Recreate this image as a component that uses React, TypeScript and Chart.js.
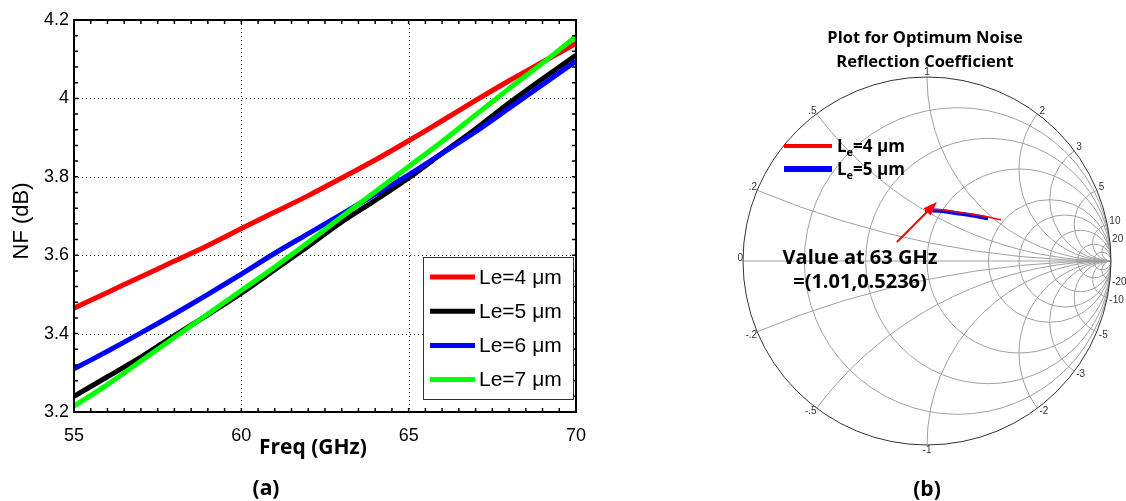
import React, { useEffect, useRef } from "react";
import { Chart, registerables } from "chart.js";

Chart.register(...registerables);

// ---------- (a) Noise figure vs frequency ----------
const freqs = [55, 56, 57, 58, 59, 60, 61, 62, 63, 64, 65, 66, 67, 68, 69, 70];
const nfLe4 = [3.465, 3.505, 3.545, 3.585, 3.625, 3.668, 3.71, 3.752, 3.797, 3.843, 3.892, 3.943, 3.995, 4.045, 4.093, 4.14];
const nfLe5 = [3.24, 3.29, 3.34, 3.395, 3.448, 3.503, 3.563, 3.623, 3.685, 3.74, 3.797, 3.86, 3.922, 3.988, 4.05, 4.11];
const nfLe6 = [3.31, 3.355, 3.402, 3.45, 3.5, 3.552, 3.605, 3.655, 3.705, 3.755, 3.805, 3.86, 3.915, 3.975, 4.035, 4.095];
const nfLe7 = [3.215, 3.27, 3.33, 3.39, 3.45, 3.51, 3.57, 3.633, 3.698, 3.762, 3.826, 3.89, 3.958, 4.025, 4.09, 4.158];
const nfLabels = ["Le=4 \u03bcm", "Le=5 \u03bcm", "Le=6 \u03bcm", "Le=7 \u03bcm"];
const nfColors = ["#ff0000", "#000000", "#0000ff", "#00ff00"];
const xTicks = [55, 60, 65, 70];
const yTicks = [3.2, 3.4, 3.6, 3.8, 4, 4.2];
const yTickLabels = ["3.2", "3.4", "3.6", "3.8", "4", "4.2"];
const xMinorStep = 0.5;
const yMinorStep = 0.04;

// ---------- (b) Smith chart ----------
const gammaReLe4 = [-0.01, 0.08, 0.163, 0.25, 0.33, 0.402];
const gammaImLe4 = [0.283, 0.278, 0.267, 0.253, 0.239, 0.224];
const gammaReLe5 = [-0.01, 0.08, 0.163, 0.25, 0.332];
const gammaImLe5 = [0.277, 0.272, 0.26, 0.247, 0.232];
const smithSeriesSub = ["=4 \u03bcm", "=5 \u03bcm"];
const smithColors = ["#ff0000", "#0000ff"];
const resistanceValues = [0.2, 0.5, 1, 2, 3, 5, 10, 20];
const reactanceValues = [0.2, 0.5, 1, 2, 3, 5, 10, 20];
const rimValues = [0, 0.2, 0.5, 1, 2, 3, 5, 10, 20];
const rimLabelsPos = ["0", ".2", ".5", "1", "2", "3", "5", "10", "20"];
const rimLabelsNeg = ["", "-.2", "-.5", "-1", "-2", "-3", "-5", "-10", "-20"];
const arrowTail = { x: -0.163, y: 0.103 };
const arrowTip = { x: 0.054, y: 0.321 };
const noteLines = ["Value at 63 GHz", "=(1.01,0.5236)"];
const smithTitle = ["Plot for Optimum Noise", "Reflection Coefficient"];

const SANS = "'Liberation Sans', Arial, sans-serif";
const BOLD = "'Open Sans', 'Liberation Sans', sans-serif";

const nfPlugin = {
  id: "nfDecor",
  beforeDatasetsDraw(chart: any) {
    const { ctx, chartArea: a, scales } = chart;
    const x = scales.x, y = scales.y;
    ctx.save();
    ctx.strokeStyle = "#222";
    ctx.lineWidth = 1;
    ctx.setLineDash([1, 3]);
    xTicks.forEach((v) => {
      if (v === xTicks[0] || v === xTicks[xTicks.length - 1]) return;
      const px = Math.round(x.getPixelForValue(v)) + 0.5;
      ctx.beginPath();
      ctx.moveTo(px, a.top);
      ctx.lineTo(px, a.bottom);
      ctx.stroke();
    });
    yTicks.forEach((v) => {
      if (v === yTicks[0] || v === yTicks[yTicks.length - 1]) return;
      const py = Math.round(y.getPixelForValue(v)) + 0.5;
      ctx.beginPath();
      ctx.moveTo(a.left, py);
      ctx.lineTo(a.right, py);
      ctx.stroke();
    });
    ctx.restore();
  },
  afterDatasetsDraw(chart: any) {
    const { ctx, chartArea: a, scales } = chart;
    const x = scales.x, y = scales.y;
    ctx.save();
    ctx.strokeStyle = "#000";
    ctx.lineWidth = 1.5;
    const nx = Math.round((xTicks[xTicks.length - 1] - xTicks[0]) / xMinorStep);
    for (let k = 0; k <= nx; k++) {
      const px = x.getPixelForValue(xTicks[0] + k * xMinorStep);
      ctx.beginPath();
      ctx.moveTo(px, a.bottom);
      ctx.lineTo(px, a.bottom - 4);
      ctx.moveTo(px, a.top);
      ctx.lineTo(px, a.top + 4);
      ctx.stroke();
    }
    const ny = Math.round((yTicks[yTicks.length - 1] - yTicks[0]) / yMinorStep);
    for (let k = 0; k <= ny; k++) {
      const py = y.getPixelForValue(yTicks[0] + k * yMinorStep);
      ctx.beginPath();
      ctx.moveTo(a.left, py);
      ctx.lineTo(a.left + 4, py);
      ctx.moveTo(a.right, py);
      ctx.lineTo(a.right - 4, py);
      ctx.stroke();
    }
    ctx.lineWidth = 2;
    ctx.strokeRect(a.left, a.top, a.right - a.left, a.bottom - a.top);

    // legend box
    const bx = a.right - 153, by = a.bottom - 155, bw = 150, bh = 142;
    ctx.fillStyle = "#fff";
    ctx.fillRect(bx, by, bw, bh);
    ctx.lineWidth = 1;
    ctx.strokeStyle = "#333";
    ctx.strokeRect(bx + 0.5, by + 0.5, bw, bh);
    ctx.font = `21px ${SANS}`;
    ctx.textBaseline = "middle";
    ctx.textAlign = "left";
    chart.data.datasets.forEach((ds: any, i: number) => {
      const ry = by + 20 + i * 34.2;
      ctx.strokeStyle = ds.borderColor;
      ctx.lineWidth = 5;
      ctx.beginPath();
      ctx.moveTo(bx + 7, ry);
      ctx.lineTo(bx + 52, ry);
      ctx.stroke();
      ctx.fillStyle = "#000";
      ctx.fillText(ds.label, bx + 56, ry + 1);
    });
    ctx.restore();
  },
  afterDraw(chart: any) {
    const { ctx } = chart;
    ctx.save();
    ctx.fillStyle = "#000";
    ctx.textAlign = "center";
    ctx.textBaseline = "middle";
    ctx.font = `22px ${SANS}`;
    ctx.translate(22, 221);
    ctx.rotate(-Math.PI / 2);
    ctx.fillText("NF (dB)", 0, 0);
    ctx.restore();
    ctx.save();
    ctx.fillStyle = "#000";
    ctx.textAlign = "center";
    ctx.textBaseline = "alphabetic";
    ctx.font = `bold 21px ${BOLD}`;
    ctx.fillText("Freq (GHz)", 313, 454);
    ctx.fillText("(a)", 266, 495);
    ctx.restore();
  },
};

const smithPlugin = {
  id: "smithDecor",
  beforeDatasetsDraw(chart: any) {
    const { ctx, scales } = chart;
    const x = scales.x, y = scales.y;
    const cx = x.getPixelForValue(0), cy = y.getPixelForValue(0);
    const R = x.getPixelForValue(1) - cx;
    const P = (re: number, im: number) => [x.getPixelForValue(re), y.getPixelForValue(im)];
    ctx.save();
    ctx.beginPath();
    ctx.arc(cx, cy, R, 0, Math.PI * 2);
    ctx.clip();
    ctx.strokeStyle = "#a0a0a0";
    ctx.lineWidth = 1;
    resistanceValues.forEach((r) => {
      const [px] = P(r / (1 + r), 0);
      ctx.beginPath();
      ctx.arc(px, cy, R / (1 + r), 0, Math.PI * 2);
      ctx.stroke();
    });
    reactanceValues.forEach((xv) => {
      [1, -1].forEach((s) => {
        const [px, py] = P(1, (s * 1) / xv);
        ctx.beginPath();
        ctx.arc(px, py, R / xv, 0, Math.PI * 2);
        ctx.stroke();
      });
    });
    ctx.beginPath();
    ctx.moveTo(cx - R, cy);
    ctx.lineTo(cx + R, cy);
    ctx.stroke();
    ctx.restore();

    ctx.save();
    ctx.strokeStyle = "#333";
    ctx.lineWidth = 1;
    ctx.beginPath();
    ctx.arc(cx, cy, R, 0, Math.PI * 2);
    ctx.stroke();
    // rim labels
    ctx.fillStyle = "#333";
    ctx.font = `10px ${SANS}`;
    ctx.textBaseline = "middle";
    rimValues.forEach((v, i) => {
      const ang = Math.PI - 2 * Math.atan(v);
      [1, -1].forEach((s) => {
        const txt = s > 0 ? rimLabelsPos[i] : rimLabelsNeg[i];
        if (!txt) return;
        const c = Math.cos(ang), sn = Math.sin(ang) * s;
        const rx = cx + R * c;
        const ry = cy - R * sn;
        if (Math.abs(c) < 0.15) {
          ctx.textAlign = "center";
          ctx.fillText(txt, rx, ry - s * 5);
        } else if (c > 0) {
          ctx.textAlign = "left";
          ctx.fillText(txt, rx + 2, ry - s * 3);
        } else {
          ctx.textAlign = "right";
          ctx.fillText(txt, rx, ry - s * 3);
        }
      });
    });
    ctx.restore();
  },
  afterDatasetsDraw(chart: any) {
    const { ctx, scales, chartArea: a } = chart;
    const x = scales.x, y = scales.y;
    // arrow
    const tx = x.getPixelForValue(arrowTail.x), ty = y.getPixelForValue(arrowTail.y);
    const hx = x.getPixelForValue(arrowTip.x), hy = y.getPixelForValue(arrowTip.y);
    const ang = Math.atan2(hy - ty, hx - tx);
    ctx.save();
    ctx.strokeStyle = "#ff0000";
    ctx.fillStyle = "#ff0000";
    ctx.lineWidth = 2;
    ctx.beginPath();
    ctx.moveTo(tx, ty);
    ctx.lineTo(hx - 10 * Math.cos(ang), hy - 10 * Math.sin(ang));
    ctx.stroke();
    ctx.beginPath();
    ctx.moveTo(hx, hy);
    ctx.lineTo(hx - 14 * Math.cos(ang) + 5 * Math.sin(ang), hy - 14 * Math.sin(ang) - 5 * Math.cos(ang));
    ctx.lineTo(hx - 14 * Math.cos(ang) - 5 * Math.sin(ang), hy - 14 * Math.sin(ang) + 5 * Math.cos(ang));
    ctx.closePath();
    ctx.fill();
    ctx.restore();

    // annotation text
    ctx.save();
    ctx.fillStyle = "#000";
    ctx.textAlign = "center";
    ctx.textBaseline = "alphabetic";
    ctx.font = `bold 20px ${BOLD}`;
    ctx.fillText(noteLines[0], a.left + 117, 264);
    ctx.fillText(noteLines[1], a.left + 117, 288);

    // title
    ctx.font = `bold 16.5px ${BOLD}`;
    ctx.fillText(smithTitle[0], 225, 43);
    ctx.fillText(smithTitle[1], 225, 67);

    // caption
    ctx.font = `bold 21px ${BOLD}`;
    ctx.fillText("(b)", 227, 496);

    // legend
    ctx.textAlign = "left";
    chart.data.datasets.forEach((ds: any, i: number) => {
      const ry = 146 + i * 23;
      ctx.strokeStyle = ds.borderColor;
      ctx.lineWidth = i === 0 ? 4 : 6;
      ctx.beginPath();
      ctx.moveTo(84, ry);
      ctx.lineTo(132, ry);
      ctx.stroke();
      ctx.fillStyle = "#000";
      ctx.font = `bold 17px ${BOLD}`;
      ctx.fillText("L", 137, ry + 6);
      const lw = ctx.measureText("L").width;
      ctx.font = `bold 11px ${BOLD}`;
      ctx.fillText("e", 137 + lw, ry + 10);
      const ew = ctx.measureText("e").width;
      ctx.font = `bold 17px ${BOLD}`;
      ctx.fillText(smithSeriesSub[i], 137 + lw + ew, ry + 6);
    });
    ctx.restore();
  },
};

export default function App() {
  const leftRef = useRef<HTMLCanvasElement | null>(null);
  const rightRef = useRef<HTMLCanvasElement | null>(null);

  useEffect(() => {
    const nfSeries = [nfLe4, nfLe5, nfLe6, nfLe7];
    const left = new Chart(leftRef.current as HTMLCanvasElement, {
      type: "line",
      data: {
        datasets: nfSeries.map((vals, i) => ({
          label: nfLabels[i],
          data: freqs.map((f, k) => ({ x: f, y: vals[k] })),
          borderColor: nfColors[i],
          backgroundColor: nfColors[i],
          borderWidth: 5,
          pointRadius: 0,
          tension: 0.3,
          fill: false,
          order: 4 - i,
        })),
      },
      options: {
        animation: false,
        responsive: false,
        events: [],
        layout: { padding: { left: 0, right: 24, top: 20, bottom: 0 } },
        plugins: { legend: { display: false }, tooltip: { enabled: false }, title: { display: false } },
        scales: {
          x: {
            type: "linear",
            min: xTicks[0],
            max: xTicks[xTicks.length - 1],
            afterBuildTicks: (s: any) => {
              s.ticks = xTicks.map((v) => ({ value: v }));
            },
            afterFit: (s: any) => {
              s.height = 89;
            },
            grid: { display: false, drawTicks: false },
            border: { display: false },
            ticks: {
              padding: 13,
              color: "#000",
              maxRotation: 0,
              font: { family: SANS, size: 18 },
              callback: (v: any) => String(v),
            },
          },
          y: {
            type: "linear",
            min: yTicks[0],
            max: yTicks[yTicks.length - 1],
            afterBuildTicks: (s: any) => {
              s.ticks = yTicks.map((v) => ({ value: v }));
            },
            afterFit: (s: any) => {
              s.width = 74;
            },
            grid: { display: false, drawTicks: false },
            border: { display: false },
            ticks: {
              padding: 5,
              color: "#000",
              font: { family: SANS, size: 18 },
              callback: (v: any) => {
                const i = yTicks.findIndex((t) => Math.abs(t - v) < 1e-6);
                return i >= 0 ? yTickLabels[i] : "";
              },
            },
          },
        },
      },
      plugins: [nfPlugin],
    } as any);

    const right = new Chart(rightRef.current as HTMLCanvasElement, {
      type: "scatter",
      data: {
        datasets: [
          {
            label: "Le=4 \u03bcm",
            data: gammaReLe4.map((re, k) => ({ x: re, y: gammaImLe4[k] })),
            borderColor: smithColors[0],
            backgroundColor: smithColors[0],
            showLine: true,
            borderWidth: 1.5,
            pointRadius: 0,
            tension: 0.3,
          },
          {
            label: "Le=5 \u03bcm",
            data: gammaReLe5.map((re, k) => ({ x: re, y: gammaImLe5[k] })),
            borderColor: smithColors[1],
            backgroundColor: smithColors[1],
            showLine: true,
            borderWidth: 4,
            pointRadius: 0,
            tension: 0.3,
          },
        ],
      },
      options: {
        animation: false,
        responsive: false,
        events: [],
        layout: { padding: { left: 43, right: 15, top: 77, bottom: 56 } },
        plugins: { legend: { display: false }, tooltip: { enabled: false }, title: { display: false } },
        scales: {
          x: { type: "linear", min: -1, max: 1, display: false },
          y: { type: "linear", min: -1, max: 1, display: false },
        },
      },
      plugins: [smithPlugin],
    } as any);

    return () => {
      left.destroy();
      right.destroy();
    };
  }, []);

  return (
    <div style={{ position: "absolute", left: 0, top: 0, width: 1126, height: 501, background: "#fff" }}>
      <canvas ref={leftRef} width={600} height={501} style={{ position: "absolute", left: 0, top: 0 }} />
      <canvas ref={rightRef} width={426} height={501} style={{ position: "absolute", left: 700, top: 0 }} />
    </div>
  );
}
